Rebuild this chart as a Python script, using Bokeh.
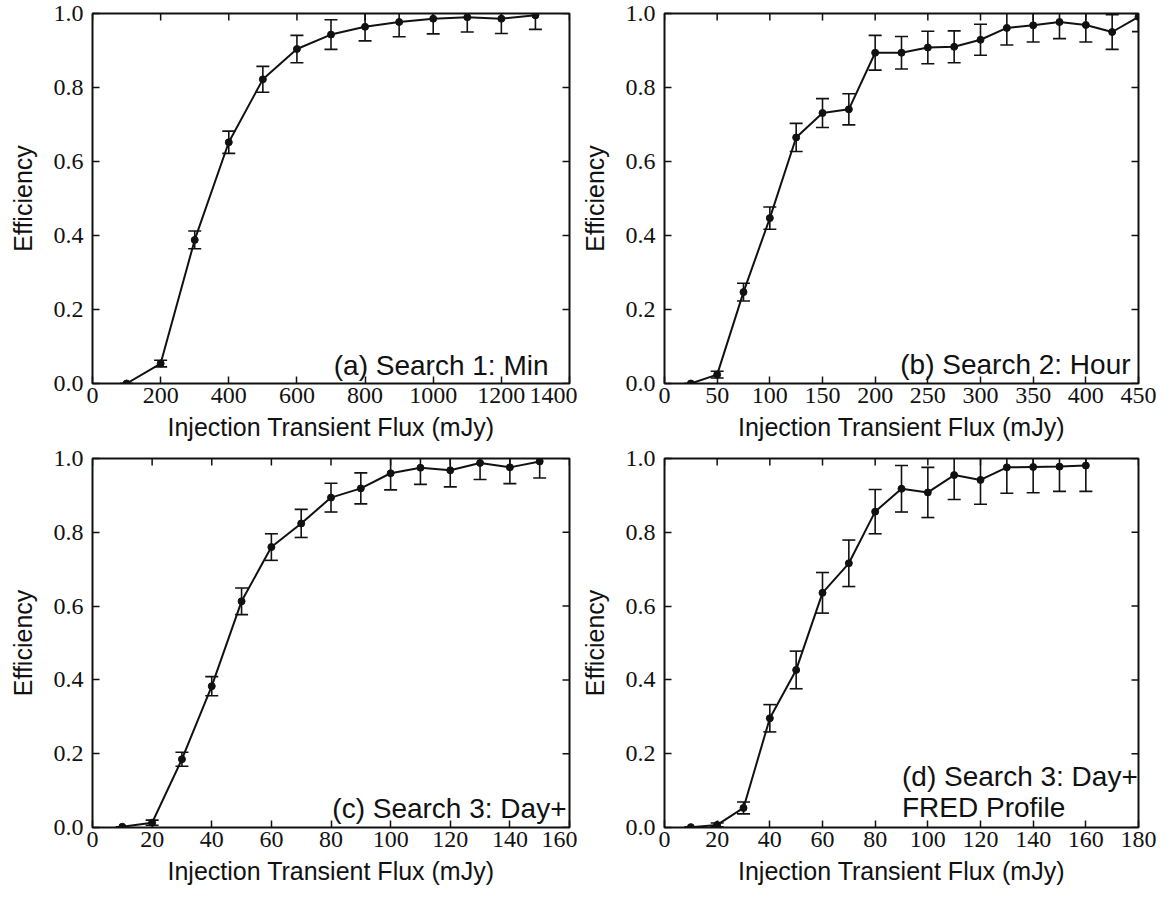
import math
from bokeh.plotting import figure
from bokeh.layouts import gridplot
from bokeh.models import ColumnDataSource, Label, FixedTicker, PrintfTickFormatter, Range1d
from bokeh.embed import file_html
from bokeh.resources import INLINE

# ---------------- data ----------------
flux_a = [100, 200, 300, 400, 500, 600, 700, 800, 900, 1000, 1100, 1200, 1300]
eff_a = [0.0, 0.054, 0.388, 0.652, 0.822, 0.904, 0.943, 0.964, 0.977, 0.986, 0.990, 0.986, 0.995]
err_a = [0.0, 0.009, 0.024, 0.030, 0.035, 0.037, 0.040, 0.038, 0.040, 0.041, 0.040, 0.040, 0.038]

flux_b = [25, 50, 75, 100, 125, 150, 175, 200, 225, 250, 275, 300, 325, 350, 375, 400, 425, 450]
eff_b = [0.0, 0.024, 0.247, 0.447, 0.665, 0.731, 0.741, 0.894, 0.894, 0.908, 0.910, 0.929,
         0.961, 0.968, 0.977, 0.969, 0.950, 0.991]
err_b = [0.0, 0.009, 0.024, 0.030, 0.038, 0.039, 0.042, 0.047, 0.044, 0.044, 0.043, 0.042,
         0.046, 0.045, 0.045, 0.046, 0.047, 0.040]

flux_c = [10, 20, 30, 40, 50, 60, 70, 80, 90, 100, 110, 120, 130, 140, 150]
eff_c = [0.002, 0.013, 0.185, 0.383, 0.613, 0.760, 0.824, 0.894, 0.919, 0.960, 0.975, 0.968,
         0.988, 0.976, 0.992]
err_c = [0.0, 0.007, 0.019, 0.026, 0.036, 0.036, 0.038, 0.039, 0.042, 0.045, 0.045, 0.045,
         0.045, 0.044, 0.045]

flux_d = [10, 20, 30, 40, 50, 60, 70, 80, 90, 100, 110, 120, 130, 140, 150, 160]
eff_d = [0.001, 0.007, 0.053, 0.296, 0.427, 0.636, 0.716, 0.856, 0.918, 0.908, 0.955, 0.942,
         0.976, 0.977, 0.978, 0.981]
err_d = [0.0, 0.005, 0.016, 0.037, 0.051, 0.055, 0.063, 0.060, 0.063, 0.068, 0.066, 0.066,
         0.070, 0.070, 0.067, 0.070]

xticks_a = [0, 200, 400, 600, 800, 1000, 1200, 1400]
xticks_b = [0, 50, 100, 150, 200, 250, 300, 350, 400, 450]
xticks_c = [0, 20, 40, 60, 80, 100, 120, 140, 160]
xticks_d = [0, 20, 40, 60, 80, 100, 120, 140, 160, 180]
yticks = [0.0, 0.2, 0.4, 0.6, 0.8, 1.0]

labels_a = ["(a) Search 1: Min"]
labels_b = ["(b) Search 2: Hour"]
labels_c = ["(c) Search 3: Day+"]
labels_d = ["(d) Search 3: Day+", "FRED Profile"]

x_title = "Injection Transient Flux (mJy)"
y_title = "Efficiency"

SERIF = "Liberation Serif"
SANS = "Liberation Sans"
INK = "#111111"
TICK_LEN = 7


def panel(xs, ys, errs, xticks, lines, frame_w, frame_h, left, right, top, bottom,
          anchor, offsets):
    xmin, xmax = xticks[0], xticks[-1]
    ymin, ymax = yticks[0], yticks[-1]
    p = figure(width=left + frame_w + right, height=top + frame_h + bottom,
               x_range=Range1d(xmin, xmax), y_range=Range1d(ymin, ymax),
               output_backend="svg", toolbar_location=None,
               min_border_left=left, min_border_right=right,
               min_border_top=top, min_border_bottom=bottom)
    p.xgrid.visible = False
    p.ygrid.visible = False
    p.outline_line_color = INK
    p.outline_line_width = 2
    p.background_fill_color = "white"
    p.border_fill_color = "white"

    p.xaxis.ticker = FixedTicker(ticks=xticks)
    p.yaxis.ticker = FixedTicker(ticks=yticks)
    p.yaxis.formatter = PrintfTickFormatter(format="%.1f")
    for ax in p.axis:
        ax.axis_line_color = None
        ax.major_tick_in = TICK_LEN
        ax.major_tick_out = 0
        ax.minor_tick_line_color = None
        ax.major_tick_line_color = INK
        ax.major_tick_line_width = 1.5
        ax.major_label_text_font = SERIF
        ax.major_label_text_font_size = "24px"
        ax.major_label_text_color = INK
        ax.axis_label_text_font = SANS
        ax.axis_label_text_font_style = "normal"
        ax.axis_label_text_font_size = "25px"
        ax.axis_label_text_color = INK

    p.xaxis.axis_label = x_title
    p.xaxis.major_label_standoff = 4
    p.xaxis.axis_label_standoff = 7
    p.yaxis.axis_label = y_title
    p.yaxis.major_label_standoff = 9
    p.yaxis.axis_label_standoff = 14

    # inward ticks on the top and right edges (markers clipped by the frame)
    top_src = ColumnDataSource(dict(x=xticks, y=[ymax] * len(xticks)))
    p.scatter(x="x", y="y", source=top_src, marker="dash", angle=math.pi / 2,
              size=2 * TICK_LEN, line_color=INK, line_width=1.5)
    right_src = ColumnDataSource(dict(x=[xmax] * len(yticks), y=yticks))
    p.scatter(x="x", y="y", source=right_src, marker="dash",
              size=2 * TICK_LEN, line_color=INK, line_width=1.5)

    lo = [y - e for y, e in zip(ys, errs)]
    hi = [y + e for y, e in zip(ys, errs)]
    src = ColumnDataSource(dict(x=xs, y=ys, lo=lo, hi=hi))
    p.segment(x0="x", y0="lo", x1="x", y1="hi", source=src, line_color=INK, line_width=1.6)
    p.scatter(x="x", y="lo", source=src, marker="dash", size=13, line_color=INK, line_width=1.6)
    p.scatter(x="x", y="hi", source=src, marker="dash", size=13, line_color=INK, line_width=1.6)
    p.line(x="x", y="y", source=src, line_color=INK, line_width=2)
    p.scatter(x="x", y="y", source=src, size=7, fill_color=INK, line_color=INK)

    # annotation text
    for txt, (dx, dy) in zip(lines, offsets):
        if anchor == "right":
            xd = xmax - dx * (xmax - xmin) / frame_w
            align = "right"
        else:
            xd = xmin + dx * (xmax - xmin) / frame_w
            align = "left"
        p.add_layout(Label(x=xd, y=ymin + dy * (ymax - ymin) / frame_h, text=txt,
                           text_align=align, text_baseline="alphabetic", text_font=SANS,
                           text_font_size="28px", text_color=INK))
    return p


FW = 477
pa = panel(flux_a, eff_a, err_a, xticks_a, labels_a, FW, 370, 92, 8, 13, 62,
           "right", [(21, 18)])
pb = panel(flux_b, eff_b, err_b, xticks_b, labels_b, FW, 370, 84, 28, 13, 62,
           "right", [(8, 19)])
pc = panel(flux_c, eff_c, err_c, xticks_c, labels_c, FW, 369, 92, 8, 13, 67,
           "right", [(3, 19)])
pd = panel(flux_d, eff_d, err_d, xticks_d, labels_d, FW, 369, 84, 28, 13, 67,
           "left", [(239, 51), (239, 20)])

grid = gridplot([[pa, pb], [pc, pd]], toolbar_location=None)

open("out.html", "w").write(file_html(grid, INLINE))
